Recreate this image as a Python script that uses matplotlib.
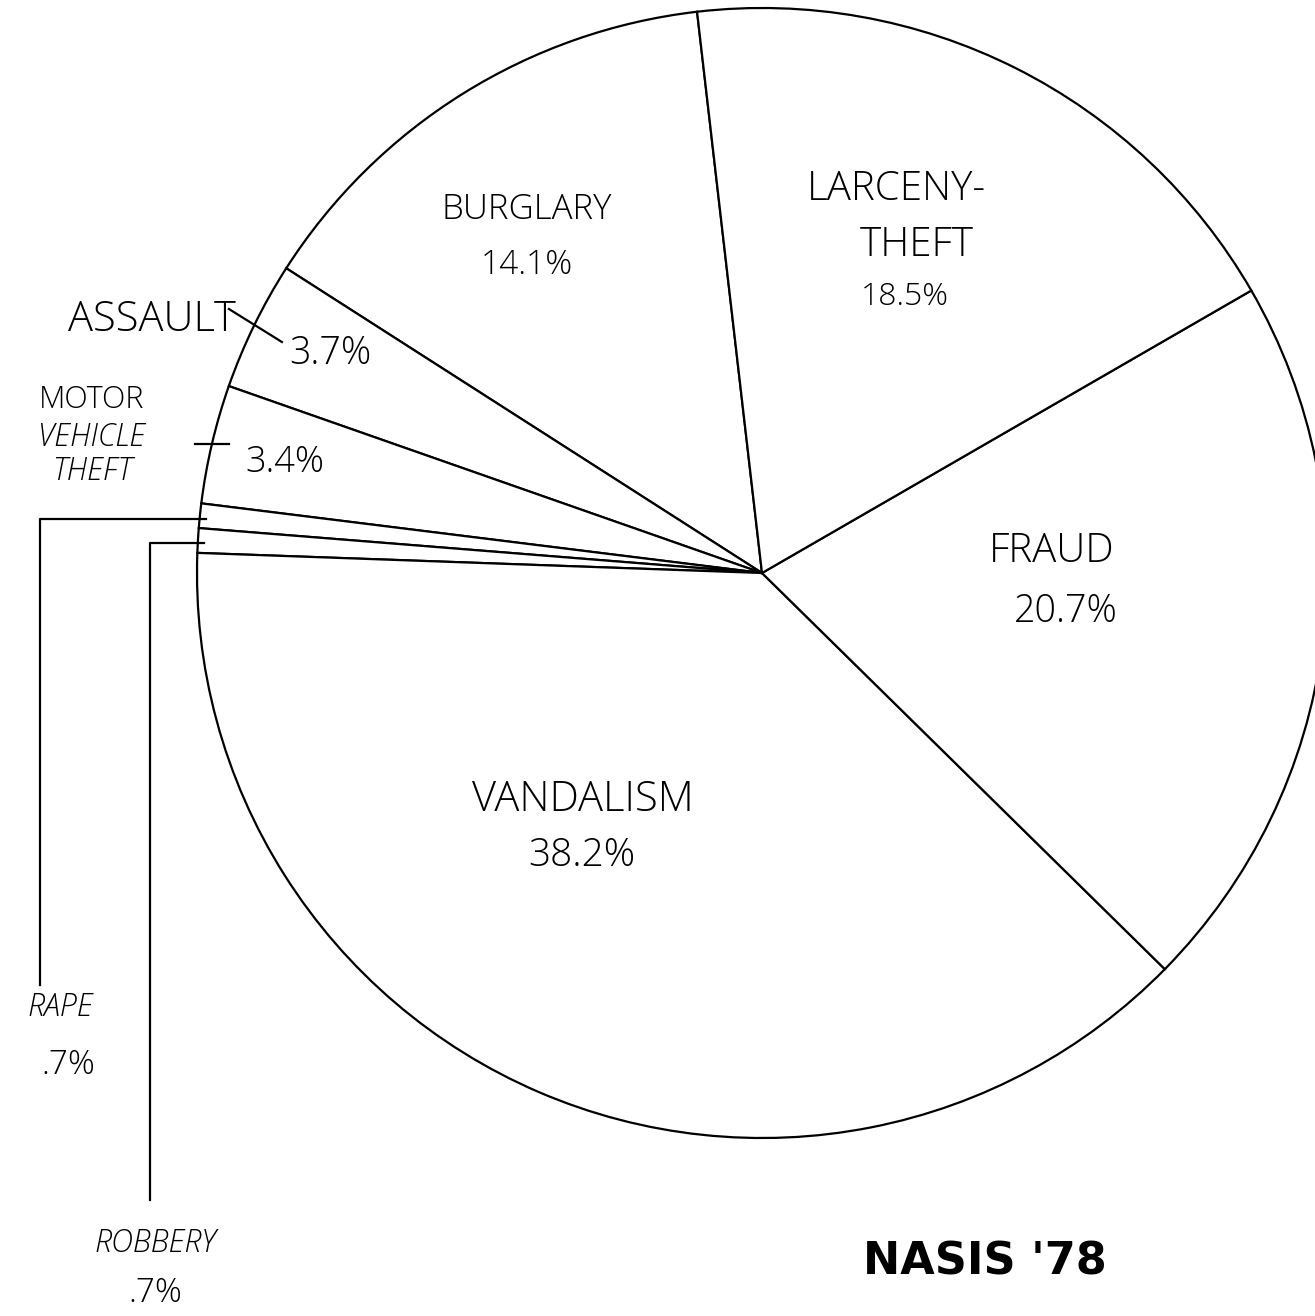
import numpy as np
import matplotlib.pyplot as plt

# crime shares, counterclockwise from the top boundary
crimes = ['BURGLARY', 'ASSAULT', 'MOTOR VEHICLE THEFT', 'RAPE', 'ROBBERY',
          'VANDALISM', 'FRAUD', 'LARCENY-THEFT']
shares = [14.1, 3.7, 3.4, 0.7, 0.7, 38.2, 20.7, 18.5]
pct_labels = ['14.1%', '3.7%', '3.4%', '.7%', '.7%', '38.2%', '20.7%', '18.5%']

W, H = 1315, 1316
cx, cy, R = 762, H - 573, 565

fig = plt.figure(figsize=(W / 100, H / 100), dpi=100)
ax = fig.add_axes([0, 0, 1, 1])
ax.set_xlim(0, W)
ax.set_ylim(0, H)
ax.set_aspect('equal')
ax.axis('off')

wedges, _ = ax.pie(shares, startangle=96.6, counterclock=True, center=(cx, cy),
                   radius=R, colors=['white'] * len(shares),
                   wedgeprops=dict(edgecolor='black', linewidth=1.6))
ax.set_xlim(0, W)
ax.set_ylim(0, H)

fnt = dict(family='Open Sans', fontweight='light', color='black',
           ha='center', va='center')


def txt(x, y, s, size=27, **kw):
    d = dict(fnt)
    d.update(kw)
    ax.text(x, H - y, s, fontsize=size, **d)


# inside labels
txt(527, 210, 'BURGLARY', 25)
txt(527, 265, pct_labels[0], 24)
txt(897, 190, 'LARCENY-', 29)
txt(917, 245, 'THEFT', 29)
txt(905, 297, pct_labels[7], 23)
txt(1052, 552, 'FRAUD', 29)
txt(1066, 612, pct_labels[6], 27)
txt(583, 800, 'VANDALISM', 30)
txt(582, 856, pct_labels[5], 28)


def edge_point(i, r=R):
    w = wedges[i]
    a = np.deg2rad((w.theta1 + w.theta2) / 2)
    return cx + r * np.cos(a), cy + r * np.sin(a)


# assault
x, y = edge_point(1, R + 8)
txt(152, 320, 'ASSAULT', 30)
ax.plot([x - 18, x + 35], [y + 13, y - 20], color='black', lw=1.6)
txt(330, 354, pct_labels[1], 27)

# motor vehicle theft
x, y = edge_point(2, R)
txt(92, 400, 'MOTOR', 22)
txt(92, 437, 'VEHICLE', 22, style='italic')
txt(92, 472, 'THEFT', 22, style='italic')
ax.plot([x - 17, x + 17], [y, y], color='black', lw=1.6)
txt(285, 462, pct_labels[2], 26)

# rape and robbery leaders
for i, lx, ly, name, py, dy in [(3, 40, 985, 'RAPE', 1008, 57),
                                 (4, 150, 1200, 'ROBBERY', 1243, 50)]:
    x, y = edge_point(i, R)
    ax.plot([x + 6, lx, lx], [y - 3, y - 3, H - ly], color='black', lw=1.6)
    txt(lx + 20 if i == 3 else lx + 5, py, name, 22, style='italic')
    txt(lx + 28 if i == 3 else lx + 5, py + dy, pct_labels[i], 24)

ax.text(985, H - 1262, "NASIS '78", fontsize=32, fontweight='bold',
        family='DejaVu Sans', ha='center', va='center')

fig.savefig('out.png', dpi=100, facecolor='white')
